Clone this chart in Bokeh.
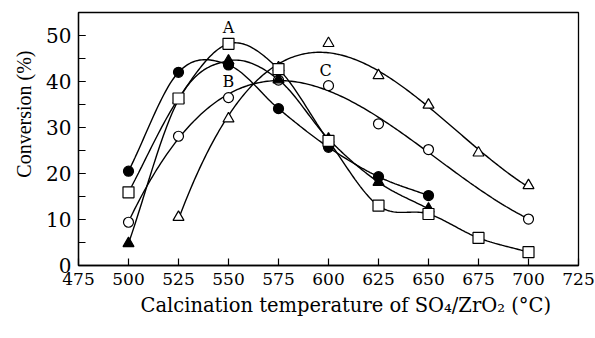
import numpy as np
from bokeh.plotting import figure
from bokeh.models import SingleIntervalTicker, Title, Range1d
from bokeh.embed import file_html
from bokeh.resources import INLINE

SERIF = "Liberation Serif"
WIDE = "DejaVu Serif"

# ---- data ----
sq_x = [500, 525, 550, 575, 600, 625, 650, 675, 700]          # open squares (A)
sq_y = [15.9, 36.3, 48.2, 42.7, 27.1, 13.0, 11.2, 6.0, 2.9]

fc_x = [500, 525, 550, 575, 600, 625, 650]                    # filled circles
fc_y = [20.5, 42.0, 43.6, 34.1, 25.7, 19.3, 15.2]

ft_x = [500, 525, 550, 575, 600, 625, 650]                    # filled triangles
ft_y = [4.8, 36.0, 44.5, 40.4, 27.5, 18.1, 12.3]

ot_x = [525, 550, 575, 600, 625, 650, 675, 700]               # open triangles
ot_y = [10.5, 31.9, 43.0, 48.3, 41.3, 34.9, 24.5, 17.4]

oc_x = [500, 525, 550, 575, 600, 625, 650, 700]               # open circles
oc_y = [9.4, 28.1, 36.5, 40.3, 39.1, 30.8, 25.2, 10.1]

curve_labels = ["A", "B", "C"]
curve_label_x = [550, 550, 598.5]
curve_label_y = [51.8, 40.0, 42.4]

x_label = "Calcination temperature of SO\u2084/ZrO\u2082 (\u00b0C)"
y_label = "Conversion (%)"


def catmull(xs, ys, n=30):
    P = np.column_stack([xs, ys]).astype(float)
    P = np.vstack([2 * P[0] - P[1], P, 2 * P[-1] - P[-2]])
    out = []
    t = np.linspace(0, 1, n, endpoint=False)[:, None]
    for i in range(1, len(P) - 2):
        p0, p1, p2, p3 = P[i - 1], P[i], P[i + 1], P[i + 2]
        seg = 0.5 * ((2 * p1) + (-p0 + p2) * t
                     + (2 * p0 - 5 * p1 + 4 * p2 - p3) * t ** 2
                     + (-p0 + 3 * p1 - 3 * p2 + p3) * t ** 3)
        out.append(seg)
    out.append(P[-2][None, :])
    arr = np.vstack(out)
    return arr[:, 0], arr[:, 1]


def polycurve(xs, ys, deg, n=200):
    xs = np.asarray(xs, float)
    c = np.polyfit((xs - 600) / 100, ys, deg)
    xx = np.linspace(xs[0], xs[-1], n)
    return xx, np.polyval(c, (xx - 600) / 100)


p = figure(width=595, height=338, x_range=Range1d(475, 725), y_range=Range1d(0, 55),
           output_backend="svg", toolbar_location=None,
           min_border_left=78, min_border_right=17, min_border_top=12, min_border_bottom=73)
p.background_fill_color = "white"
p.border_fill_color = "white"
p.outline_line_color = "black"
p.outline_line_width = 1.3
p.xgrid.visible = False
p.ygrid.visible = False

p.xaxis.ticker = SingleIntervalTicker(interval=25, num_minor_ticks=0)
p.yaxis.ticker = SingleIntervalTicker(interval=10, num_minor_ticks=2)
for ax in (p.xaxis, p.yaxis):
    ax.axis_line_color = "black"
    ax.axis_line_width = 1.3
    ax.major_tick_line_color = "black"
    ax.major_tick_line_width = 1.2
    ax.major_tick_in = 7
    ax.major_tick_out = 0
    ax.major_label_text_font = WIDE
    ax.major_label_text_color = "black"
p.xaxis.major_label_text_font_size = "17px"
p.yaxis.major_label_text_font_size = "20px"
p.xaxis.minor_tick_line_color = None
p.yaxis.minor_tick_line_color = "black"
p.yaxis.minor_tick_line_width = 1.2
p.yaxis.minor_tick_in = 7
p.yaxis.minor_tick_out = 0
p.xaxis.major_label_standoff = 7
p.yaxis.major_label_standoff = 7

LW = 1.4
for xs, ys in ((sq_x, sq_y), (fc_x, fc_y), (ft_x, ft_y)):
    cx, cy = catmull(xs, ys)
    p.line(cx, cy, line_color="black", line_width=LW)
for xs, ys, d in ((ot_x, ot_y, 3), (oc_x, oc_y, 3)):
    cx, cy = polycurve(xs, ys, d)
    p.line(cx, cy, line_color="black", line_width=LW)

p.scatter(oc_x, oc_y, marker="circle", size=10, fill_color="white", line_color="black", line_width=1.2)
p.scatter(ot_x, ot_y, marker="triangle", size=11, fill_color="white", line_color="black", line_width=1.2)
p.scatter(ft_x, ft_y, marker="triangle", size=11, fill_color="black", line_color="black", line_width=1.2)
p.scatter(fc_x, fc_y, marker="circle", size=10, fill_color="black", line_color="black", line_width=1.2)
p.scatter(sq_x, sq_y, marker="square", size=11, fill_color="white", line_color="black", line_width=1.2)

p.text(curve_label_x, curve_label_y, text=curve_labels, text_font={"value": WIDE},
       text_font_size="16px", text_align="center", text_baseline="middle", text_color="black")

p.add_layout(Title(text=x_label, align="left", offset=62, standoff=8,
                   text_font=WIDE, text_font_size="19.5px", text_font_style="normal",
                   text_color="black"), "below")
p.add_layout(Title(text=y_label, align="right", offset=38, standoff=17,
                   text_font=SERIF, text_font_size="20px", text_font_style="normal",
                   text_color="black"), "left")

open("out.html", "w").write(file_html(p, INLINE))
